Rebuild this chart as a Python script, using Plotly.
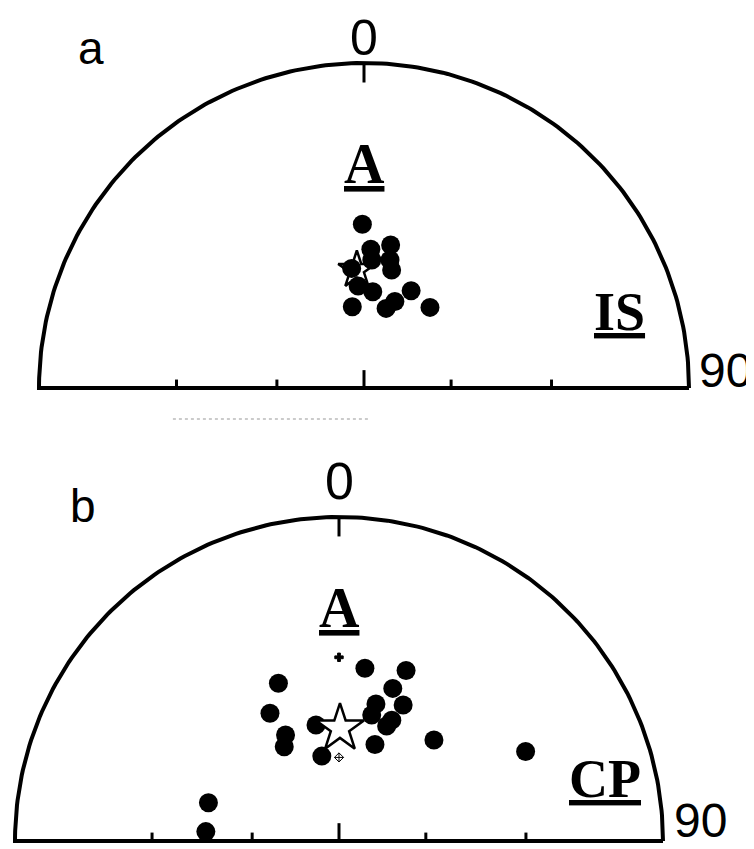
import numpy as np
import plotly.graph_objects as go
from plotly.subplots import make_subplots

# poles in net coordinates (x east, y north, 1 = primitive circle)
a_x = [-0.005, 0.021, 0.082, 0.085, 0.080, 0.024, -0.038, -0.018, 0.027, -0.036, 0.068, 0.095, 0.145, 0.203]
a_y = [0.504, 0.427, 0.440, 0.363, 0.394, 0.394, 0.368, 0.314, 0.296, 0.250, 0.245, 0.266, 0.299, 0.248]
a_star_x = [-0.022]
a_star_y = [0.363]

b_x = [-0.187, 0.080, 0.207, 0.166, -0.213, 0.114, 0.198, 0.101, 0.163, 0.147, -0.071, -0.165, -0.169,
       -0.053, 0.111, 0.293, 0.576, -0.403, -0.411]
b_y = [0.487, 0.533, 0.526, 0.471, 0.394, 0.423, 0.420, 0.389, 0.373, 0.355, 0.358, 0.327, 0.291,
       0.262, 0.298, 0.312, 0.276, 0.118, 0.029]
b_star_x = [0.003]
b_star_y = [0.348]
b_cone_x = [0.0, 0.0]
b_cone_y = [0.567, 0.258]

# stereographic ticks at 30 and 60 deg along the E-W diameter
tick_x = [-0.577, -0.268, 0.0, 0.268, 0.577]

# the page body has an 8px margin, so the figure is placed at (8, 8)
OFF = 8
W, H = 754 - OFF, 849 - OFF
SPLIT = 440 - OFF  # row between the panels, figure pixels
# panel centre and radius, in page pixels
nets = {1: (364, 388, 325), 2: (339, 841, 324)}

fig = make_subplots(rows=2, cols=1)

sans = "Liberation Sans, Arial, sans-serif"
serif = "Liberation Serif, Times New Roman, serif"

def draw_net(row, lab, sub):
    cx, cy, R = nets[row]
    cx, cy = cx - OFF, cy - OFF
    t = np.linspace(0, np.pi, 200)
    fig.add_trace(go.Scatter(x=list(np.cos(t)) + [-1, 1], y=list(np.sin(t)) + [0, 0],
                             mode="lines", line=dict(color="black", width=4),
                             hoverinfo="skip", cliponaxis=False), row=row, col=1)
    tx, ty = [], []
    for x in tick_x:
        h = 0.055 if x == 0 else 0.026
        tx += [x, x, None]
        ty += [0, h, None]
    tx += [0, 0, None]
    ty += [1, 0.94, None]
    fig.add_trace(go.Scatter(x=tx, y=ty, mode="lines", line=dict(color="black", width=3),
                             hoverinfo="skip"), row=row, col=1)
    xr = "x" if row == 1 else "x2"
    yr = "y" if row == 1 else "y2"
    if row == 1:
        fig.add_annotation(x=0, y=cy / R, xref=xr, yref=yr, yanchor="top", text="0",
                           showarrow=False, font=dict(family=sans, size=50, color="black"))
        fig.add_annotation(x=1.111, y=0.055, xref=xr, yref=yr, text="90", showarrow=False,
                           font=dict(family=sans, size=48, color="black"))
    else:
        fig.add_annotation(x=0, y=1.11, xref=xr, yref=yr, text="0", showarrow=False,
                           font=dict(family=sans, size=52, color="black"))
        fig.add_annotation(x=1.117, y=(cy - H) / R, xref=xr, yref=yr, yanchor="bottom",
                           text="90", showarrow=False, font=dict(family=sans, size=48, color="black"))
    fig.add_annotation(x=-0.84 if row == 1 else -0.79, y=1.045 if row == 1 else 1.035, xref=xr, yref=yr,
                       text=lab, showarrow=False, font=dict(family=sans, size=46, color="black"))
    fig.add_annotation(x=0, y=0.69 if row == 1 else 0.72, xref=xr, yref=yr, text="<b>A</b>",
                       showarrow=False,
                       font=dict(family=serif, size=56, color="black", lineposition="under"))
    fig.add_annotation(x=0.785 if row == 1 else 0.82, y=0.235 if row == 1 else 0.19, xref=xr, yref=yr,
                       text="<b>%s</b>" % sub, showarrow=False,
                       font=dict(family=serif, size=54, color="black", lineposition="under"))
    # axis ranges so that the net sits at its pixel position
    if row == 1:
        y0, y1 = (cy - SPLIT) / R, cy / R
    else:
        y0, y1 = (cy - H) / R, (cy - SPLIT) / R
    fig.update_xaxes(range=[-cx / R, (W - cx) / R], row=row, col=1)
    fig.update_yaxes(range=[y0, y1], row=row, col=1)

draw_net(1, "a", "IS")
draw_net(2, "b", "CP")

# faint scan streak between the panels
fig.add_trace(go.Scatter(x=[-0.588, 0.02], y=[-0.095, -0.095], mode="lines",
                         line=dict(color="#bbbbbb", width=1.5, dash="dot"), hoverinfo="skip"),
              row=1, col=1)

# panel a: mean direction star hidden under the poles
fig.add_trace(go.Scatter(x=a_star_x, y=a_star_y, mode="markers",
                         marker=dict(symbol="star", size=28, color="white",
                                     line=dict(color="black", width=2.5))), row=1, col=1)
fig.add_trace(go.Scatter(x=a_x, y=a_y, mode="markers",
                         marker=dict(size=19, color="black")), row=1, col=1)

# panel b
fig.add_trace(go.Scatter(x=b_x, y=b_y, mode="markers",
                         marker=dict(size=19, color="black")), row=2, col=1)
fig.add_trace(go.Scatter(x=b_star_x, y=b_star_y, mode="markers",
                         marker=dict(symbol="star", size=36, color="white",
                                     line=dict(color="black", width=2.5))), row=2, col=1)
fig.add_trace(go.Scatter(x=b_cone_x, y=b_cone_y, mode="markers",
                         marker=dict(symbol=["cross", "diamond-cross-open"], size=7, color="black",
                                     line=dict(color="black", width=1))), row=2, col=1)

fig.update_xaxes(visible=False)
fig.update_yaxes(visible=False)
fig.layout.yaxis.domain = [1 - SPLIT / H, 1]
fig.layout.yaxis2.domain = [0, 1 - SPLIT / H]
fig.layout.xaxis.domain = [0, 1]
fig.layout.xaxis2.domain = [0, 1]

fig.update_layout(width=W, height=H, margin=dict(l=0, r=0, t=0, b=0),
                  paper_bgcolor="white", plot_bgcolor="white", showlegend=False)

fig.write_html("out.html")
